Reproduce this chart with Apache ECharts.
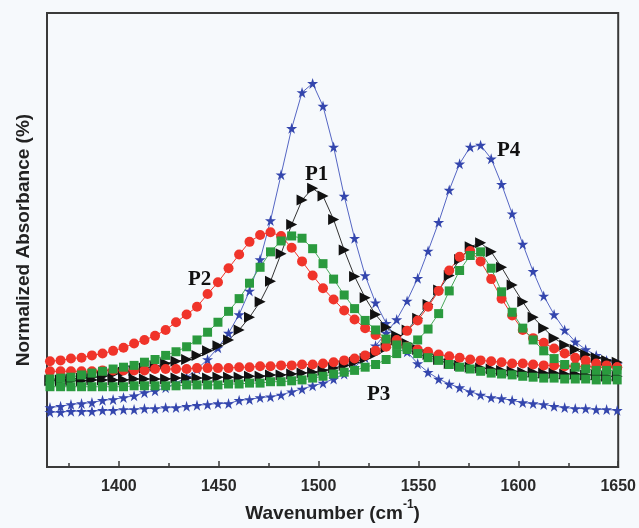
<!DOCTYPE html>
<html>
<head>
<meta charset="utf-8">
<script src="https://cdn.jsdelivr.net/npm/echarts@6.0.0/dist/echarts.min.js"></script>
<style>
  html, body { margin: 0; padding: 0; background: #f6f9fc; }
  #chart { width: 639px; height: 528px; }
</style>
</head>
<body>
<div id="chart"></div>
<script>
// wavenumber of every plotted point (cm-1)
var wavenumber = [1365.5,1370.8,1376.0,1381.3,1386.5,1391.8,1397.1,1402.3,1407.6,1412.8,
  1418.1,1423.4,1428.6,1433.9,1439.1,1444.4,1449.6,1454.9,1460.2,1465.4,
  1470.7,1475.9,1481.2,1486.5,1491.7,1497.0,1502.2,1507.5,1512.8,1518.0,
  1523.3,1528.5,1533.8,1539.1,1544.3,1549.6,1554.8,1560.1,1565.4,1570.6,
  1575.9,1581.1,1586.4,1591.6,1596.9,1602.2,1607.4,1612.7,1617.9,1623.2,
  1628.5,1633.7,1639.0,1644.2,1649.5];

// blue stars
var blueBand1 = [13.1,13.4,13.8,14.0,14.2,14.7,14.9,15.3,15.7,16.4,
  16.8,17.5,18.5,19.8,21.6,23.7,26.3,29.5,33.6,38.8,
  45.7,54.3,64.4,74.6,82.5,84.5,79.5,70.5,59.7,50.4,
  42.2,36.2,31.7,28.2,25.4,22.8,20.9,19.4,18.3,17.5,
  16.6,15.9,15.3,15.1,14.7,14.2,14.0,13.8,13.4,13.1,
  12.9,12.9,12.7,12.7,12.5];
var blueBand2 = [12.1,12.1,12.3,12.3,12.3,12.5,12.5,12.7,12.7,12.9,
  12.9,13.1,13.1,13.4,13.6,13.8,14.0,14.0,14.7,14.9,
  15.3,15.5,15.9,16.6,17.2,17.9,18.5,19.4,20.5,22.0,
  24.1,26.7,29.5,32.5,36.6,41.6,47.6,53.9,61.0,66.8,
  70.5,70.9,67.9,62.3,55.8,49.1,43.1,37.7,33.6,30.2,
  27.6,25.9,24.6,23.5,22.6];

// black triangles
var blackBand1 = [19.2,19.2,19.4,19.6,19.8,20.0,20.5,20.9,21.3,21.8,
  22.2,22.8,23.3,23.7,24.6,25.6,26.7,28.0,30.2,33.0,
  36.4,40.9,47.0,53.4,58.8,61.4,59.7,54.5,47.8,42.0,
  37.3,33.6,30.8,28.9,27.2,25.9,24.8,23.7,22.8,22.4,
  22.0,21.8,21.6,21.3,21.1,20.9,20.9,20.7,20.7,20.5,
  20.5,20.3,20.3,20.0,20.0];
var blackBand2 = [19.0,19.0,19.0,19.0,19.2,19.2,19.2,19.2,19.4,19.4,
  19.4,19.4,19.6,19.6,19.6,19.6,19.8,19.8,19.8,20.0,
  20.0,20.3,20.3,20.5,20.7,20.9,21.3,21.8,22.4,23.1,
  23.9,25.0,26.3,28.0,30.2,32.8,35.8,39.0,42.2,45.7,
  48.5,49.4,47.4,44.0,40.1,36.4,33.0,30.6,28.4,26.9,
  25.9,24.8,24.1,23.5,23.1];

// red circles
var redBand1 = [23.3,23.5,23.9,24.1,24.6,25.0,25.6,26.3,27.2,28.0,
  28.9,30.2,31.9,33.6,35.3,38.1,40.7,43.8,46.8,49.6,
  51.1,51.7,50.9,48.3,45.3,42.2,39.4,36.9,34.5,32.5,
  30.6,29.1,28.0,27.2,26.5,25.9,25.4,24.8,24.4,24.1,
  23.7,23.5,23.3,23.1,22.8,22.8,22.6,22.4,22.4,22.2,
  22.2,22.2,22.0,22.0,22.0];
var redBand2 = [21.1,21.1,21.1,21.1,21.1,21.3,21.3,21.3,21.3,21.3,
  21.6,21.6,21.6,21.6,21.8,21.8,21.8,21.8,22.0,22.0,
  22.2,22.2,22.4,22.4,22.6,22.6,22.8,23.1,23.5,23.9,
  24.6,25.6,26.5,28.0,30.0,32.3,35.3,38.8,43.3,46.3,
  47.6,45.3,41.4,37.1,33.4,30.2,28.4,27.4,26.1,25.0,
  24.1,23.5,22.8,22.4,22.0];

// green squares
var greenBand1 = [19.4,19.6,19.8,20.3,20.7,21.1,21.6,22.0,22.4,23.1,
  23.7,24.6,25.4,26.5,28.0,29.7,31.9,34.3,37.1,40.5,
  44.0,47.4,49.8,50.9,50.4,48.1,44.8,41.4,37.9,34.9,
  32.3,30.2,28.2,26.9,25.9,25.0,24.1,23.5,22.6,22.0,
  21.6,21.1,20.7,20.5,20.3,20.0,19.8,19.6,19.6,19.4,
  19.4,19.4,19.2,19.2,19.2];
var greenBand2 = [17.7,17.7,17.7,17.7,17.7,17.7,17.7,17.7,17.9,17.9,
  17.9,17.9,17.9,18.1,18.1,18.1,18.1,18.3,18.3,18.5,
  18.5,18.8,18.8,19.0,19.2,19.6,20.0,20.5,20.9,21.3,
  22.0,22.6,23.7,25.0,26.5,28.0,30.4,33.8,38.8,43.3,
  46.6,47.4,43.8,38.6,34.1,30.6,28.0,25.6,23.9,22.6,
  22.0,21.6,21.3,21.3,21.3];

var majorTicks = [1400, 1450, 1500, 1550, 1600, 1650];
var minorTicks = [1375, 1425, 1475, 1525, 1575, 1625];

var starPath = 'path://M50,0 L61,35 L98,35 L68,57 L79,91 L50,70 L21,91 L32,57 L2,35 L39,35 Z';
var trianglePath = 'path://M0,0 L10,5 L0,10 Z';

function pairs(arr) {
  return wavenumber.map(function (x, i) { return [x, arr[i]]; });
}

function curve(values, symbol, size, color, lineColor) {
  return {
    type: 'line',
    data: pairs(values),
    symbol: symbol,
    symbolSize: size,
    showAllSymbol: true,
    itemStyle: { color: color },
    lineStyle: { color: lineColor, width: 1 },
    emphasis: { disabled: true },
    animation: false
  };
}

var myChart = echarts.init(document.getElementById('chart'));

var option = {
  backgroundColor: '#f6f9fc',
  grid: {
    left: 47, top: 13, right: 20, bottom: 51,
    show: true,
    borderColor: '#3a3a3a',
    borderWidth: 2
  },
  xAxis: [
    {
      type: 'value',
      min: 1364,
      max: 1650,
      name: '{a|Wavenumber (cm}{s|-1}{a|)}',
      nameLocation: 'middle',
      nameGap: 31,
      nameTextStyle: {
        rich: {
          a: { fontSize: 19, fontWeight: 'bold', color: '#222', fontFamily: 'Liberation Sans', lineHeight: 24, verticalAlign: 'bottom' },
          s: { fontSize: 12, fontWeight: 'bold', color: '#222', fontFamily: 'Liberation Sans', lineHeight: 24, verticalAlign: 'top' }
        }
      },
      axisLine: { show: true, lineStyle: { color: '#3a3a3a', width: 2 } },
      axisTick: { inside: true, length: 6, customValues: majorTicks, lineStyle: { color: '#3a3a3a', width: 1.5 } },
      axisLabel: {
        customValues: majorTicks,
        formatter: function (v) { return String(v); },
        fontSize: 16, fontWeight: 'bold', color: '#2a2a2a', fontFamily: 'Liberation Sans',
        margin: 11
      },
      splitLine: { show: false }
    },
    {
      type: 'value',
      position: 'bottom',
      min: 1364,
      max: 1650,
      axisLine: { show: false },
      axisTick: { show: true, inside: true, length: 4, customValues: minorTicks, lineStyle: { color: '#3a3a3a', width: 1.5 } },
      axisLabel: { show: false },
      splitLine: { show: false }
    }
  ],
  yAxis: {
    type: 'value',
    min: 0,
    max: 100,
    name: 'Normalized Absorbance (%)',
    nameLocation: 'middle',
    nameGap: 14,
    nameTextStyle: { fontSize: 19, fontWeight: 'bold', color: '#222', fontFamily: 'Liberation Sans' },
    axisLine: { show: false },
    axisTick: { show: false },
    axisLabel: { show: false },
    splitLine: { show: false }
  },
  series: [
    curve(blueBand1, starPath, 11, '#3446ad', '#5566c4'),
    curve(blueBand2, starPath, 11, '#3446ad', '#5566c4'),
    curve(blackBand1, trianglePath, 11, '#111111', '#333333'),
    curve(blackBand2, trianglePath, 11, '#111111', '#333333'),
    curve(redBand1, 'circle', 10, '#f0342a', '#f0342a'),
    curve(redBand2, 'circle', 10, '#f0342a', '#f0342a'),
    curve(greenBand1, 'rect', 9, '#2a9a3e', '#4aa85a'),
    curve(greenBand2, 'rect', 9, '#2a9a3e', '#4aa85a')
  ],
  graphic: [
    { type: 'text', left: 305, top: 164, style: { text: 'P1', font: 'bold 21px "Liberation Serif"', fill: '#111' } },
    { type: 'text', left: 188, top: 269, style: { text: 'P2', font: 'bold 21px "Liberation Serif"', fill: '#111' } },
    { type: 'text', left: 367, top: 384, style: { text: 'P3', font: 'bold 21px "Liberation Serif"', fill: '#111' } },
    { type: 'text', left: 497, top: 140, style: { text: 'P4', font: 'bold 21px "Liberation Serif"', fill: '#111' } }
  ]
};

myChart.setOption(option);
</script>
</body>
</html>
